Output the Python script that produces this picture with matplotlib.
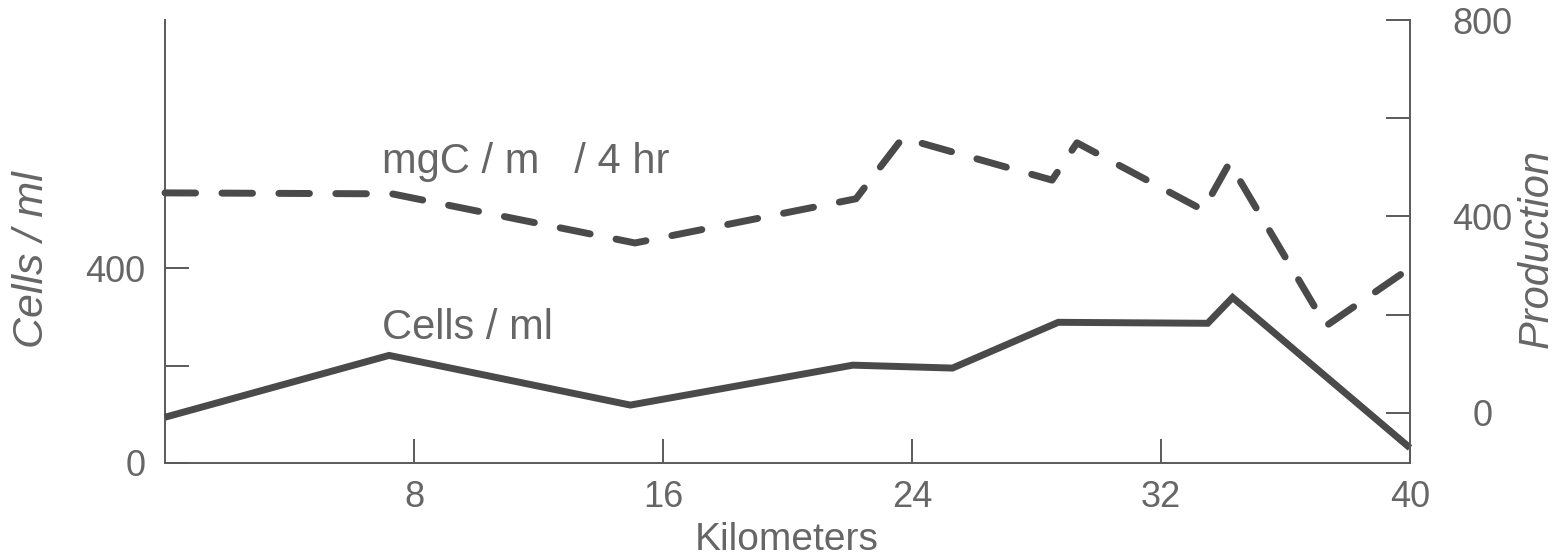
import matplotlib
matplotlib.use("Agg")
import matplotlib.pyplot as plt

# Distance along the transect (km) and measured values
cells_km = [0.0, 7.2, 14.95, 22.1, 25.3, 28.7, 33.5, 34.3, 40.0]
cells_per_ml = [94, 221, 119, 201, 195, 289, 287, 340, 31]

prod_km = [0.0, 7.3, 15.1, 22.2, 23.7, 28.5, 29.3, 33.35, 34.2, 37.3, 40.0]
prod_mgc = [448, 446, 346, 436, 560, 474, 550, 413, 509, 177, 295]

x_ticks = [8, 16, 24, 32, 40]
x_tick_labels = ["8", "16", "24", "32", "40"]
left_ticks = [0, 200, 400]
left_tick_labels = ["0", "", "400"]
right_ticks = [0, 200, 400, 600, 800]
right_tick_labels = ["0", "", "400", "", "800"]

INK = "#4a4a4a"
TEXT = "#666666"
FRAME = "#5a5a5a"
FONT = "Liberation Sans"

plt.rcParams["font.family"] = [FONT, "DejaVu Sans"]

W, H = 1562, 558
fig = plt.figure(figsize=(W / 100, H / 100), dpi=100)
ax = fig.add_axes([165 / W, 95 / H, 1245 / W, 443 / H])
ax2 = ax.twinx()

ax.set_xlim(0, 40)
ax.set_ylim(0, 910)
ax2.set_ylim(-102, 800)

# Cells / ml (solid) on the left scale
ax.plot(cells_km, cells_per_ml, color=INK, lw=5, solid_joinstyle="miter",
        solid_capstyle="butt", clip_on=False, zorder=3)

# Production (dashed) on the right scale
ax2.plot(prod_km, prod_mgc, color=INK, lw=5, dashes=(4.4, 3.8),
         dash_capstyle="round", dash_joinstyle="round", clip_on=False, zorder=3)

# Spines: open top, thin grey frame elsewhere
for a in (ax, ax2):
    a.spines["top"].set_visible(False)
    for s in ("left", "right", "bottom"):
        a.spines[s].set_color(FRAME)
        a.spines[s].set_linewidth(1.4)
ax2.spines["left"].set_visible(False)
ax2.spines["bottom"].set_visible(False)
ax.spines["right"].set_visible(False)

ax.set_xticks(x_ticks)
ax.set_xticklabels(x_tick_labels)
ax.tick_params(axis="x", direction="in", length=17, width=1.4, color=FRAME,
               labelsize=26, labelcolor=TEXT, pad=12)

ax.set_yticks(left_ticks)
ax.set_yticklabels(left_tick_labels)
ax.tick_params(axis="y", direction="in", length=17, width=1.4, color=FRAME,
               labelsize=26, labelcolor=TEXT, pad=14)

ax2.set_yticks(right_ticks)
ax2.set_yticklabels(right_tick_labels)
ax2.tick_params(axis="y", direction="in", length=17, width=1.4, color=FRAME,
                labelsize=26, labelcolor=TEXT, pad=52)
for lbl in ax2.get_yticklabels():
    lbl.set_horizontalalignment("center")

# In-plot series labels
ax.text(6.97, 596, "mgC / m   / 4 hr", fontsize=30, color=TEXT,
        ha="left", va="baseline")
ax.text(6.97, 255, "Cells / ml", fontsize=30, color=TEXT,
        ha="left", va="baseline")

# Axis titles
fig.text(787 / W, 1 - 540 / H, "Kilometers", fontsize=28, color=TEXT,
         ha="center", va="center")
fig.text(32 / W, 1 - 260 / H, "Cells / ml", fontsize=31, color=TEXT,
         style="italic", rotation=90, ha="center", va="center")
fig.text(1537 / W, 1 - 248 / H, "Production", fontsize=30, color=TEXT,
         style="italic", rotation=90, ha="center", va="center")

fig.savefig("out.png", dpi=100)
